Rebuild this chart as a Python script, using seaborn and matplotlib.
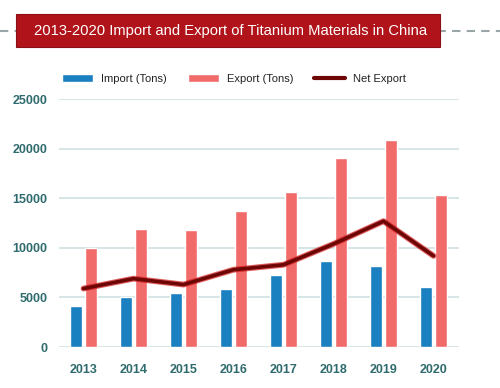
import matplotlib
matplotlib.use("Agg")
import matplotlib.pyplot as plt
import seaborn as sns
import pandas as pd
from matplotlib.patches import Rectangle, Patch
from matplotlib.lines import Line2D

years = ["2013", "2014", "2015", "2016", "2017", "2018", "2019", "2020"]
imports = [4100, 5000, 5500, 5900, 7300, 8700, 8200, 6100]
exports = [10000, 11900, 11800, 13700, 15600, 19100, 20900, 15300]
net_export = [5900, 6900, 6300, 7800, 8300, 10400, 12700, 9200]
yticks = [0, 5000, 10000, 15000, 20000, 25000]
title = "2013-2020 Import and Export of Titanium Materials in China"

IMP_C = "#1a80c0"
EXP_C = "#f26b6b"
NET_C = "#6e0606"
TICK_C = "#2f6b6e"
GRID_C = "#cfe0e3"

sns.set_theme(style="white")
plt.rcParams["font.family"] = ["Liberation Sans", "DejaVu Sans"]

df = pd.DataFrame({
    "Year": years * 2,
    "Value": imports + exports,
    "Type": ["Import (Tons)"] * len(years) + ["Export (Tons)"] * len(years),
})

fig = plt.figure(figsize=(5, 3.88), dpi=100)
ax = fig.add_axes([58.5 / 500, 1 - 347 / 388, 400 / 500, (347 - 99.3) / 388])

sns.barplot(data=df, x="Year", y="Value", hue="Type",
            palette={"Import (Tons)": IMP_C, "Export (Tons)": EXP_C},
            saturation=1, width=0.58, gap=0.18, ax=ax, legend=False, zorder=3)
sns.lineplot(x=list(range(len(years))), y=net_export, color="#d01818", lw=4.2,
             ax=ax, zorder=4, alpha=0.7)
sns.lineplot(x=list(range(len(years))), y=net_export, color=NET_C, lw=2.6,
             ax=ax, zorder=5)

ax.set_xlim(-0.5, len(years) - 0.5)
ax.set_ylim(0, 25000)
ax.set_yticks(yticks)
ax.set_yticklabels([str(v) for v in yticks])
ax.set_xlabel("")
ax.set_ylabel("")
ax.yaxis.grid(True, color=GRID_C, lw=1.2, zorder=0)
ax.set_axisbelow(True)
for s in ax.spines.values():
    s.set_visible(False)
ax.tick_params(axis="y", length=0, labelsize=9, pad=8)
ax.tick_params(axis="x", length=0, labelsize=9, pad=12)
for lab in ax.get_xticklabels() + ax.get_yticklabels():
    lab.set_fontweight("bold")
    lab.set_color(TICK_C)

# dashed line behind title
fig.add_artist(Line2D([0, 1], [1 - 31 / 388, 1 - 31 / 388], color="#9aa5aa",
                      lw=1.5, ls=(0, (4, 3)), transform=fig.transFigure, zorder=1))
fig.add_artist(Rectangle((16 / 500, 1 - 47 / 388), (440 - 16) / 500, 33 / 388,
                         transform=fig.transFigure, facecolor="#b0141a",
                         edgecolor="#8a1015", lw=0.8, zorder=2))
fig.text(231 / 500, 1 - 31 / 388, title, color="white", fontsize=10.6,
         ha="center", va="center", zorder=3)

handles = [Patch(facecolor=IMP_C), Patch(facecolor=EXP_C),
           Line2D([0], [0], color=NET_C, lw=3)]
labels = ["Import (Tons)", "Export (Tons)", "Net Export"]
fig.legend(handles, labels, loc="center left", bbox_to_anchor=(52 / 500, 1 - 79 / 388),
           ncol=3, frameon=False, fontsize=8, handlelength=2.8, handleheight=0.8,
           columnspacing=1.9, handletextpad=0.7, labelcolor="#222222")

fig.savefig("out.png", dpi=100, facecolor="white")
